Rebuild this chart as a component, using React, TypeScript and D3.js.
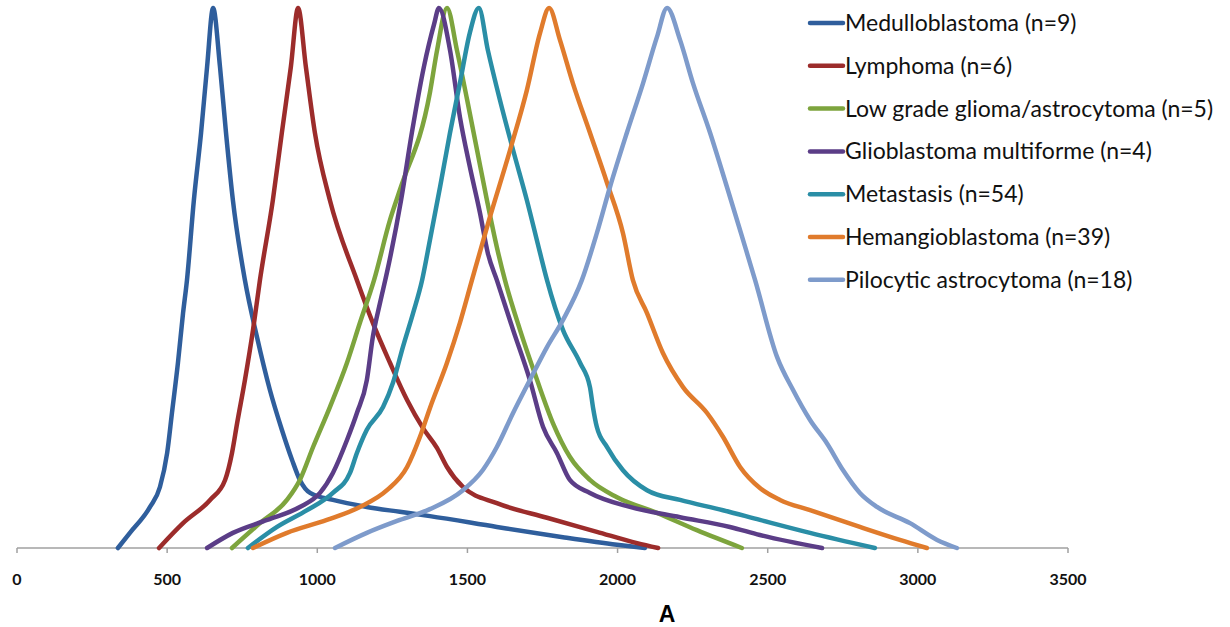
import React, { useEffect, useRef } from "react";
import * as d3 from "d3";

// [value, relative frequency]
const medulloblastoma = [
  [336, 0], [376, 0.028], [443, 0.076], [476, 0.113], [500, 0.176], [516, 0.25],
  [536, 0.343], [553, 0.435], [566, 0.496], [589, 0.644], [613, 0.769], [633, 0.891],
  [653, 1], [676, 0.891], [696, 0.769], [719, 0.644], [759, 0.496], [799, 0.391],
  [842, 0.293], [882, 0.219], [916, 0.163], [942, 0.126], [976, 0.102], [1052, 0.089],
  [1165, 0.076], [1275, 0.067], [1375, 0.059], [1598, 0.039], [1818, 0.02], [1998, 0.006],
  [2091, 0],
];
const lymphoma = [
  [473, 0], [553, 0.046], [643, 0.089], [693, 0.126], [716, 0.176], [733, 0.231],
  [759, 0.311], [786, 0.404], [809, 0.496], [852, 0.644], [882, 0.769], [912, 0.891],
  [936, 1], [962, 0.891], [992, 0.769], [1042, 0.644], [1132, 0.496], [1185, 0.417],
  [1242, 0.343], [1299, 0.274], [1352, 0.222], [1399, 0.185], [1432, 0.15], [1485, 0.113],
  [1598, 0.083], [1765, 0.056], [1931, 0.03], [2065, 0.009], [2135, 0],
];
const lowGrade = [
  [716, 0], [809, 0.046], [899, 0.089], [942, 0.126], [986, 0.187], [1042, 0.261],
  [1099, 0.343], [1142, 0.417], [1189, 0.496], [1242, 0.607], [1275, 0.663], [1375, 0.843],
  [1399, 0.922], [1432, 1], [1465, 0.922], [1499, 0.83], [1532, 0.737], [1565, 0.644],
  [1598, 0.557], [1625, 0.496], [1675, 0.404], [1732, 0.311], [1785, 0.231], [1841, 0.169],
  [1908, 0.126], [1998, 0.094], [2131, 0.065], [2264, 0.033], [2414, 0],
];
const glioblastoma = [
  [633, 0], [719, 0.028], [833, 0.052], [942, 0.076], [1009, 0.102], [1052, 0.139],
  [1099, 0.2], [1132, 0.25], [1165, 0.311], [1185, 0.391], [1209, 0.454], [1232, 0.51],
  [1279, 0.644], [1315, 0.769], [1355, 0.891], [1389, 0.97], [1405, 1], [1442, 0.922],
  [1475, 0.798], [1508, 0.706], [1542, 0.62], [1568, 0.546], [1598, 0.496], [1652, 0.404],
  [1708, 0.311], [1752, 0.224], [1798, 0.176], [1841, 0.126], [1908, 0.102], [2041, 0.076],
  [2208, 0.057], [2374, 0.039], [2474, 0.024], [2681, 0],
];
const metastasis = [
  [769, 0], [866, 0.039], [966, 0.07], [1052, 0.102], [1109, 0.139], [1132, 0.176],
  [1165, 0.219], [1219, 0.261], [1252, 0.306], [1285, 0.372], [1319, 0.435], [1349, 0.496],
  [1375, 0.57], [1409, 0.669], [1442, 0.769], [1475, 0.861], [1508, 0.954], [1538, 1],
  [1568, 0.922], [1608, 0.83], [1652, 0.737], [1698, 0.644], [1742, 0.546], [1765, 0.496],
  [1818, 0.404], [1875, 0.343], [1908, 0.298], [1918, 0.261], [1931, 0.224], [1965, 0.187],
  [2018, 0.144], [2098, 0.107], [2208, 0.089], [2351, 0.07], [2474, 0.052], [2641, 0.028],
  [2857, 0],
];
const hemangioblastoma = [
  [786, 0], [899, 0.028], [1032, 0.052], [1142, 0.076], [1232, 0.107], [1299, 0.15],
  [1342, 0.206], [1375, 0.259], [1432, 0.343], [1475, 0.417], [1515, 0.496], [1575, 0.613],
  [1642, 0.737], [1698, 0.848], [1742, 0.954], [1772, 1], [1808, 0.941], [1851, 0.861],
  [1908, 0.769], [1965, 0.676], [2018, 0.583], [2051, 0.496], [2098, 0.435], [2151, 0.361],
  [2218, 0.298], [2298, 0.25], [2351, 0.206], [2408, 0.15], [2474, 0.111], [2541, 0.089],
  [2641, 0.07], [2807, 0.039], [2940, 0.015], [3030, 0],
];
const pilocytic = [
  [1059, 0], [1165, 0.028], [1275, 0.052], [1375, 0.072], [1485, 0.107], [1552, 0.145],
  [1598, 0.187], [1652, 0.25], [1708, 0.311], [1765, 0.372], [1818, 0.422], [1881, 0.496],
  [1931, 0.583], [1975, 0.669], [2031, 0.769], [2085, 0.861], [2131, 0.946], [2165, 1],
  [2208, 0.941], [2251, 0.861], [2308, 0.769], [2364, 0.669], [2418, 0.57], [2458, 0.496],
  [2531, 0.354], [2584, 0.293], [2641, 0.237], [2697, 0.194], [2751, 0.144], [2807, 0.102],
  [2864, 0.076], [2974, 0.046], [3064, 0.015], [3130, 0],
];

const seriesNames = [
  "Medulloblastoma (n=9)",
  "Lymphoma (n=6)",
  "Low grade glioma/astrocytoma (n=5)",
  "Glioblastoma multiforme (n=4)",
  "Metastasis (n=54)",
  "Hemangioblastoma (n=39)",
  "Pilocytic astrocytoma (n=18)",
];
const seriesData = [
  medulloblastoma,
  lymphoma,
  lowGrade,
  glioblastoma,
  metastasis,
  hemangioblastoma,
  pilocytic,
];
const colors = [
  "#2F5E9C",
  "#9C2C2B",
  "#7DA43D",
  "#5B3D87",
  "#2A8EA6",
  "#E07B2C",
  "#7E9BCB",
];
const xTicks = [0, 500, 1000, 1500, 2000, 2500, 3000, 3500];
const xLabel = "A";

const App = () => {
  const svgRef = useRef<SVGSVGElement>(null);

  useEffect(() => {
    const svg = d3.select(svgRef.current);
    svg.selectAll("*").remove();

    const xScale = d3.scaleLinear().domain([0, 3500]).range([17, 1068]);
    const yScale = d3.scaleLinear().domain([0, 1]).range([548, 8]);

    // X axis
    const axis = svg.append("g").attr("transform", `translate(0, ${yScale(0)})`);
    axis
      .append("line")
      .attr("x1", xScale(0))
      .attr("x2", xScale(3500))
      .attr("stroke", "#a0a0a0")
      .attr("stroke-width", 1.5);
    axis
      .selectAll(".tick")
      .data(xTicks)
      .enter()
      .append("line")
      .attr("x1", (d) => xScale(d))
      .attr("x2", (d) => xScale(d))
      .attr("y1", 0)
      .attr("y2", 5)
      .attr("stroke", "#a0a0a0")
      .attr("stroke-width", 1.5);
    axis
      .selectAll(".tick-label")
      .data(xTicks)
      .enter()
      .append("text")
      .attr("x", (d) => xScale(d))
      .attr("y", 37)
      .attr("text-anchor", "middle")
      .style("font-family", "Lato, sans-serif")
      .style("font-weight", "bold")
      .style("font-size", "16px")
      .style("fill", "#111")
      .text((d) => d);

    // axis caption
    svg
      .append("text")
      .attr("x", 667)
      .attr("y", 622)
      .attr("text-anchor", "middle")
      .style("font-family", "'Liberation Sans', Arial, sans-serif")
      .style("font-weight", "bold")
      .style("font-size", "23px")
      .style("fill", "#000")
      .text(xLabel);

    // Curves
    const line = d3
      .line<number[]>()
      .x((d) => xScale(d[0]))
      .y((d) => yScale(d[1]))
      .curve(d3.curveMonotoneX);

    seriesData.forEach((data, i) => {
      svg
        .append("path")
        .datum(data)
        .attr("d", line)
        .attr("fill", "none")
        .attr("stroke", colors[i])
        .attr("stroke-width", 4.5)
        .attr("stroke-linejoin", "round")
        .attr("stroke-linecap", "round");
    });

    // Legend
    const legend = svg.append("g").attr("transform", "translate(810, 23)");
    seriesNames.forEach((name, i) => {
      const row = legend.append("g").attr("transform", `translate(0, ${i * 42.8})`);
      row
        .append("line")
        .attr("x1", 0)
        .attr("x2", 33)
        .attr("stroke", colors[i])
        .attr("stroke-width", 4.5)
        .attr("stroke-linecap", "round");
      row
        .append("text")
        .attr("x", 35)
        .attr("y", 8)
        .style("font-family", "Lato, sans-serif")
        .style("font-size", "23px")
        .style("fill", "#111")
        .text(name);
    });
  }, []);

  return (
    <svg
      ref={svgRef}
      width={1230}
      height={627}
      style={{ position: "absolute", left: 0, top: 0, background: "#fff" }}
    ></svg>
  );
};

export default App;
